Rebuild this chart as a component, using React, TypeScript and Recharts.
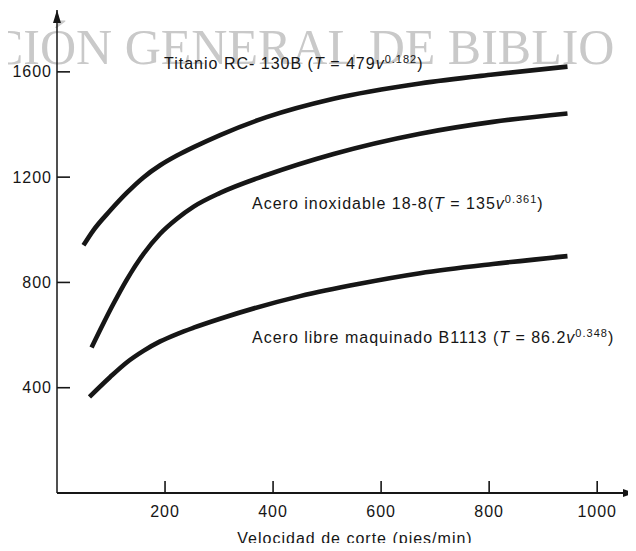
import { LineChart, Line, XAxis, YAxis, ReferenceDot } from 'recharts'

// velocidad de corte (pies/min) vs vida T
const titanioV = [49, 67, 98, 129, 160, 191, 222, 253, 302, 388, 512, 672, 807, 945]
const titanioT = [941, 997, 1072, 1140, 1199, 1245, 1282, 1314, 1360, 1428, 1498, 1556, 1590, 1620]

const inoxV = [64, 86, 104, 129, 160, 191, 222, 253, 302, 388, 512, 672, 807, 945]
const inoxT = [553, 645, 717, 810, 908, 985, 1042, 1088, 1140, 1208, 1288, 1365, 1410, 1442]

const libreV = [60, 98, 129, 160, 191, 222, 253, 302, 450, 560, 672, 807, 945]
const libreT = [365, 440, 496, 540, 576, 604, 628, 662, 748, 795, 835, 870, 900]

const speedTicks = [200, 400, 600, 800, 1000]
const lifeTicks = [400, 800, 1200, 1600]

const X_MAX = 1070
const Y_MAX = 1835

const INK = '#161616'
const SANS = '"Liberation Sans", Arial, Helvetica, sans-serif'

const toPoints = (v: number[], t: number[]) => v.map((x, i) => ({ v: x, t: t[i] }))

const titanio = toPoints(titanioV, titanioT)
const inox = toPoints(inoxV, inoxT)
const libre = toPoints(libreV, libreT)

const labelStyle = { fontFamily: SANS, fontSize: 16, letterSpacing: 1, fill: INK }

function LeftTick({ x, y, payload }: any) {
  return (
    <g>
      <line x1={x} x2={x + 13} y1={y} y2={y} stroke={INK} strokeWidth={1.6} />
      <text x={x - 5} y={y} dy="0.35em" textAnchor="end" style={labelStyle}>
        {payload.value}
      </text>
    </g>
  )
}

function BottomTick({ x, y, payload }: any) {
  return (
    <g>
      <line x1={x} x2={x} y1={y} y2={y - 12} stroke={INK} strokeWidth={1.6} />
      <text x={x} y={y + 18} dy="0.35em" textAnchor="middle" style={labelStyle}>
        {payload.value}
      </text>
    </g>
  )
}

function UpArrow({ cx, cy }: any) {
  return <path d={`M${cx - 4},${cy + 13} L${cx},${cy} L${cx + 4},${cy + 13} Z`} fill={INK} />
}

function RightArrow({ cx, cy }: any) {
  return <path d={`M${cx - 12},${cy - 4} L${cx},${cy} L${cx - 12},${cy + 4} Z`} fill={INK} />
}

function Formula({ x, y, name, coef, exp }: { x: number; y: number; name: string; coef: string; exp: string }) {
  return (
    <text x={x} y={y} style={labelStyle}>
      {name}
      <tspan fontStyle="italic">T</tspan>
      {` = ${coef}`}
      <tspan fontStyle="italic">v</tspan>
      <tspan dy={-6} fontSize={11}>{exp}</tspan>
      <tspan dy={6}>)</tspan>
    </text>
  )
}

export default function App() {
  return (
    <div style={{ position: 'relative', width: 636, height: 551, margin: -8, background: '#fff' }}>
      <svg width={636} height={551} style={{ position: 'absolute', left: 0, top: 0 }}>
        <text
          x={-10}
          y={64}
          style={{ fontFamily: '"Liberation Serif", "Times New Roman", serif', fontSize: 50, fill: '#c9c9c9' }}
        >
          CIÓN GENERAL DE BIBLIO
        </text>
      </svg>
      <div style={{ position: 'absolute', left: 0, top: 0 }}>
        <LineChart width={636} height={551} margin={{ top: 10, right: 1, bottom: 0, left: 0 }}>
          <XAxis
            type="number"
            dataKey="v"
            domain={[0, X_MAX]}
            ticks={speedTicks}
            height={58}
            tickSize={0}
            tickMargin={0}
            tickLine={false}
            tick={<BottomTick />}
            axisLine={{ stroke: INK, strokeWidth: 1.8 }}
            allowDataOverflow
          />
          <YAxis
            type="number"
            dataKey="t"
            domain={[0, Y_MAX]}
            ticks={lifeTicks}
            width={57}
            tickSize={0}
            tickMargin={0}
            tickLine={false}
            tick={<LeftTick />}
            axisLine={{ stroke: INK, strokeWidth: 1.5 }}
            allowDataOverflow
          />
          <Line data={titanio} dataKey="t" type="monotone" stroke={INK} strokeWidth={4.6} dot={false} isAnimationActive={false} />
          <Line data={inox} dataKey="t" type="monotone" stroke={INK} strokeWidth={4.6} dot={false} isAnimationActive={false} />
          <Line data={libre} dataKey="t" type="monotone" stroke={INK} strokeWidth={4.6} dot={false} isAnimationActive={false} />
          <ReferenceDot x={0} y={Y_MAX} r={0} shape={<UpArrow />} ifOverflow="visible" />
          <ReferenceDot x={X_MAX} y={0} r={0} shape={<RightArrow />} ifOverflow="visible" />
        </LineChart>
      </div>
      <svg width={636} height={551} style={{ position: 'absolute', left: 0, top: 0, pointerEvents: 'none' }}>
        <Formula x={164} y={69} name="Titanio RC- 130B (" coef="479" exp="0.182" />
        <Formula x={252} y={209} name="Acero inoxidable 18-8(" coef="135" exp="0.361" />
        <Formula x={252} y={343} name="Acero libre maquinado B1113 (" coef="86.2" exp="0.348" />
        <text x={355} y={544} textAnchor="middle" style={labelStyle}>
          Velocidad de corte (pies/min)
        </text>
      </svg>
    </div>
  )
}
